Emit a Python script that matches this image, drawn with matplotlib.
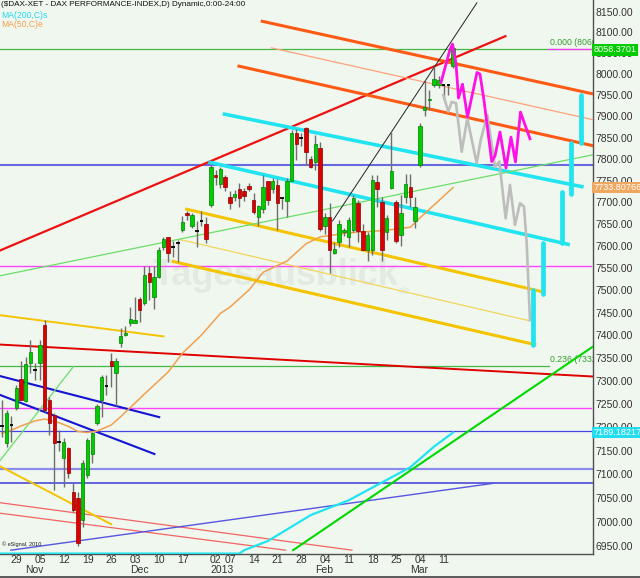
import numpy as np
import pandas as pd
import matplotlib
matplotlib.use("Agg")
import matplotlib.pyplot as plt
from matplotlib.ticker import FixedLocator, NullLocator, FuncFormatter

plt.rcParams['font.family'] = ['Liberation Sans', 'DejaVu Sans']

# trading days (day 0 = 29 Oct 2012)
holidays = ["2012-12-24", "2012-12-25", "2012-12-26", "2012-12-31", "2013-01-01"]
days = pd.bdate_range("2012-10-25", "2013-03-14")
days = days[~days.isin(pd.to_datetime(holidays))]
day_no = np.arange(len(days)) - 2

opens = [7202, 7166, 7205, 7241, 7305, 7257, 7339, 7325, 7339, 7423, 7260, 7227, 7168, 7134, 7155, 7063,
         7050, 7004, 7099, 7144, 7209, 7259, 7290, 7343, 7317, 7383, 7401, 7428, 7427, 7480, 7471, 7539,
         7486, 7531, 7597, 7620, 7599, 7606, 7637, 7676, 7645, 7635, 7656, 7651, 7694, 7763, 7742, 7759,
         7712, 7712, 7730, 7726, 7738, 7705, 7666, 7684, 7748, 7730, 7740, 7709, 7703, 7749, 7860, 7849,
         7872, 7800, 7792, 7825, 7645, 7666, 7584, 7609, 7632, 7620, 7637, 7698, 7635, 7592, 7591, 7746,
         7701, 7632, 7733, 7701, 7626, 7712, 7735, 7656, 7786, 7915, 7938, 7975, 7974, 7974, 7975, 8020]
highs = [7259, 7238, 7225, 7292, 7345, 7353, 7390, 7340, 7390, 7435, 7266, 7230, 7195, 7177, 7157, 7082,
         7062, 7130, 7177, 7191, 7251, 7313, 7313, 7361, 7350, 7417, 7421, 7464, 7486, 7486, 7554, 7556,
         7555, 7599, 7620, 7621, 7612, 7614, 7669, 7680, 7676, 7656, 7679, 7667, 7787, 7775, 7781, 7763,
         7727, 7729, 7745, 7732, 7745, 7722, 7693, 7763, 7750, 7755, 7754, 7711, 7755, 7868, 7870, 7860,
         7875, 7807, 7855, 7840, 7676, 7698, 7609, 7660, 7640, 7667, 7717, 7705, 7651, 7632, 7763, 7763,
         7712, 7671, 7866, 7705, 7717, 7766, 7766, 7712, 7885, 7986, 7962, 8020, 7995, 7977, 7977, 8073]
lows = [7180, 7159, 7169, 7238, 7259, 7255, 7317, 7303, 7303, 7234, 7184, 7067, 7150, 7074, 7092, 7021,
        6950, 6990, 7092, 7124, 7205, 7223, 7270, 7287, 7245, 7375, 7398, 7420, 7427, 7430, 7468, 7479,
        7458, 7528, 7591, 7565, 7576, 7565, 7633, 7660, 7641, 7599, 7645, 7606, 7690, 7740, 7732, 7726,
        7685, 7702, 7688, 7703, 7726, 7673, 7645, 7676, 7693, 7722, 7637, 7685, 7666, 7748, 7797, 7830,
        7785, 7778, 7775, 7635, 7628, 7540, 7581, 7599, 7622, 7597, 7633, 7609, 7591, 7567, 7580, 7690,
        7567, 7614, 7731, 7607, 7600, 7698, 7690, 7641, 7781, 7900, 7915, 7970, 7968, 7940, 7950, 8015]
closes = [7203, 7230, 7204, 7285, 7260, 7337, 7363, 7324, 7379, 7237, 7209, 7166, 7167, 7169, 7102, 7025,
          6955, 7123, 7173, 7187, 7245, 7310, 7289, 7332, 7343, 7399, 7406, 7436, 7435, 7456, 7535, 7520,
          7531, 7591, 7616, 7584, 7598, 7605, 7654, 7671, 7671, 7634, 7655, 7616, 7781, 7758, 7776, 7736,
          7699, 7719, 7709, 7714, 7731, 7678, 7691, 7736, 7705, 7750, 7699, 7708, 7750, 7860, 7836, 7848,
          7817, 7781, 7836, 7638, 7667, 7591, 7593, 7651, 7636, 7660, 7710, 7635, 7592, 7626, 7752, 7731,
          7591, 7663, 7773, 7612, 7676, 7743, 7712, 7690, 7876, 7923, 7942, 7989, 7987, 7974, 7974, 8062]

# moving averages (day, value)
ma50_day = [-2, 0, 2, 5, 7, 8, 10, 12, 14, 16, 18, 21, 23, 28, 33, 36, 40, 44, 46, 50, 53, 58, 62, 65,
            71, 79, 84, 86, 89, 93]
ma50_val = [7187, 7194, 7203, 7214, 7218, 7215, 7210, 7202, 7191, 7189, 7192, 7205, 7223, 7272, 7320,
            7361, 7401, 7449, 7463, 7501, 7541, 7566, 7605, 7621, 7630, 7636, 7643, 7664, 7694, 7734]
ma200_day = [-3, 48, 49, 54, 63, 71, 79, 84, 89, 93]
ma200_val = [6934, 6934, 6941, 6960, 7014, 7045, 7088, 7115, 7159, 7189]

# trend lines: ((day, price), (day, price))
red_up = [(-2.42, 7590), (104.0, 8091)]
red_down = [(-2.42, 7380), (122.5, 7310)]
red_thin = [[(-2.42, 7040), (71.7, 6941)], [(-2.42, 7018), (57.7, 6941)]]
orange_thick = [[(52.8, 8127), (122.4, 7953)], [(47.9, 8019), (122.4, 7831)]]
orange_thin = [(54.7, 8063), (122.4, 7892)]
cyan_channel = [[(44.85, 7905), (120.1, 7736)], [(41.84, 7792), (117.2, 7604)]]
yellow_thick = [[(36.9, 7684), (111.45, 7498)], [(34.1, 7565), (110.2, 7380)],
                [(-2.42, 7445), (32.0, 7398)], [(-2.42, 7117), (21.0, 6995)]]
yellow_thin = [(35.4, 7615), (108.9, 7433)]
blue_thick = [[(-2.42, 7311), (31.1, 7222)], [(-2.42, 7270), (30.1, 7143)]]
blue_diag = [(-0.12, 6941), (101.6, 7081)]
green_thick = [(59.3, 6941), (122.5, 7376)]
green_thin = [[(-2.42, 7533), (122.5, 7810)], [(-2.42, 7129), (13.06, 7332)]]
black_thin = [(67.6, 7657), (98.0, 8172)]

# horizontal levels
fib_levels = [8060, 7333]
fib_labels = ["0.000 (8060", "0.236 (7332"]
blue_levels = [7786.5, 7193, 7080.7]
blue_light_level = 7110.5
magenta_levels = [7555, 7241]

# projections
pink_day = [90.44, 92.34, 92.86, 93.6, 94.13, 94.97, 96.02, 98.02, 98.65, 99.49, 101.12, 101.81,
            102.86, 104.13, 105.18, 106.13, 107.18, 109.18]
pink_val = [7980, 8059, 8072, 8026, 7943, 7976, 7898, 8004, 8000, 7938, 7794, 7807, 7863, 7779,
            7851, 7793, 7910, 7847]
gray_day = [90.93, 91.98, 92.69, 93.6, 94.8, 95.98, 97.96, 98.8, 100.19, 101.81, 102.72, 104.06,
            104.97, 106.02, 107.08, 107.92, 108.49, 109.18]
gray_val = [7950, 7911, 7934, 7931, 7817, 7895, 7790, 7844, 7903, 7782, 7794, 7663, 7740, 7648,
            7698, 7690, 7606, 7434]
bar_day = [109.9, 111.9, 115.9, 117.8, 119.9]
bar_low = [7380, 7493, 7608, 7720, 7837]
bar_high = [7500, 7608, 7723, 7837, 7950]

# last values on the price scale
last_close = 8058.3701
last_ma50 = 7733.80766
last_ma200 = 7189.18217

tick_days = ["2012-10-29", "2012-11-05", "2012-11-12", "2012-11-19", "2012-11-26", "2012-12-03",
             "2012-12-10", "2012-12-17", "2013-01-02", "2013-01-07", "2013-01-14", "2013-01-21",
             "2013-01-28", "2013-02-04", "2013-02-11", "2013-02-18", "2013-02-25", "2013-03-04",
             "2013-03-11"]
month_days = ["2012-11-01", "2012-12-03", "2013-01-02", "2013-02-01", "2013-03-01"]
month_names = ["Nov", "Dec", "2013", "Feb", "Mar"]

bg = "#f0f7ee"
fig = plt.figure(figsize=(6.4, 5.78), dpi=100)
fig.patch.set_facecolor(bg)
ax = fig.add_axes([0, 24 / 578, 593 / 640, 554 / 578])
ax.set_facecolor(bg)
ax.set_yscale("log")
ax.set_xlim(-2.42, 122.45)
ax.set_ylim(6933.1, 8178.8)


def seg(line, **kw):
    (x0, y0), (x1, y1) = line
    ax.plot([x0, x1], [y0, y1], **kw)


# watermark
ax.text(0.4646, 0.502, "Tagesausblick", transform=ax.transAxes, fontsize=26, fontweight="bold",
        color="#e3eae1", ha="center", va="center", zorder=1)
ax.text(0.672, 0.474, "de", transform=ax.transAxes, fontsize=7, fontweight="bold",
        color="#e3eae1", ha="left", va="center", zorder=1)

# horizontal levels
ax.axhline(fib_levels[0], color="#44b844", lw=0.9, zorder=2)
ax.plot([113, 122.45], [fib_levels[0]] * 2, color="#ff30ff", lw=0.9, zorder=2)
ax.plot([-2.42, 113.2], [fib_levels[1]] * 2, color="#44b844", lw=0.9, zorder=2)
for lev, lab in zip(fib_levels, fib_labels):
    ax.text(113.3, lev * 1.0005, lab, color="#30a030", fontsize=6.3, va="bottom", ha="left",
            clip_on=True, zorder=2)
ax.axhline(blue_levels[0], color="#6a6ae0", lw=1.5, zorder=2)
ax.axhline(blue_levels[1], color="#4444e6", lw=0.9, zorder=2)
ax.axhline(blue_levels[2], color="#3c3cd8", lw=1.1, zorder=2)
ax.axhline(blue_light_level, color="#8c8cec", lw=1.6, zorder=2)
for lev in magenta_levels:
    ax.plot([-2.42, 122.1], [lev, lev], color="#ff44ff", lw=1.0, zorder=2)

# trend lines
seg(red_up, color="#ee1111", lw=1.6, zorder=3)
seg(red_down, color="#e00000", lw=1.4, zorder=3)
for ln in red_thin:
    seg(ln, color="#f06464", lw=0.9, zorder=3)
for ln in orange_thick:
    seg(ln, color="#ff5a14", lw=2.2, zorder=3)
seg(orange_thin, color="#ffa27c", lw=0.9, zorder=3)
for ln in cyan_channel:
    seg(ln, color="#20e4f0", lw=2.6, zorder=3)
for ln in yellow_thick:
    seg(ln, color="#f5c400", lw=2.2 if ln[0][0] > 0 else 1.4, zorder=3)
seg(yellow_thin, color="#f3d45c", lw=0.9, zorder=3)
for ln in blue_thick:
    seg(ln, color="#1414d2", lw=1.5, zorder=3)
seg(blue_diag, color="#5656e0", lw=1.0, zorder=3)
seg(green_thick, color="#00d800", lw=1.5, zorder=3)
for ln in green_thin:
    seg(ln, color="#6ade6a", lw=0.9, zorder=3)
seg(black_thin, color="#222222", lw=0.7, zorder=3)

# moving averages
ax.plot(ma200_day, ma200_val, color="#20e4f0", lw=1.6, zorder=4)
ax.plot(ma50_day, ma50_val, color="#f0a050", lw=1.1, zorder=4)

# candles
for d, o, h, l, c in zip(day_no, opens, highs, lows, closes):
    ax.vlines(d, l, h, color="#6e6e6e", lw=1.0, zorder=5)
    if abs(c - o) < 3:
        ax.hlines(o, d - 0.38, d + 0.38, color="black", lw=1.3, zorder=6)
    else:
        up = c > o
        ax.bar(d, abs(c - o), bottom=min(o, c), width=0.72,
               color="#00cc00" if up else "#dd0000",
               edgecolor="#008000" if up else "#8a0000", lw=0.5, zorder=6)

# projections
ax.plot(gray_day, gray_val, color="#bdbdbd", lw=1.9, zorder=7)
ax.plot(pink_day, pink_val, color="#ff10e8", lw=2.0, zorder=8)
ax.vlines(bar_day, bar_low, bar_high, color="#20e4f0", lw=3.4, zorder=8, capstyle="round")

# axes styling
for s in ["left", "top"]:
    ax.spines[s].set_visible(False)
for s in ["right", "bottom"]:
    ax.spines[s].set_color("#505050")
    ax.spines[s].set_linewidth(1.0)
ax.yaxis.tick_right()
ax.yaxis.set_major_locator(FixedLocator(np.arange(6950, 8151, 50)))
ax.yaxis.set_minor_locator(NullLocator())
ax.yaxis.set_major_formatter(FuncFormatter(lambda v, p: f"{v:.2f}"))
ax.tick_params(axis="y", length=0, pad=1.5, labelsize=7.5, labelcolor="#333333")
ax.set_xticks([])

xtr = ax.get_xaxis_transform()
pos = {d: n for d, n in zip(days, day_no)}
for t in tick_days:
    dt = pd.Timestamp(t)
    ax.text(pos[dt] - 0.2, -6 / 554, dt.strftime("%d"), transform=xtr, ha="left", va="center",
            fontsize=7.5, color="#333333", clip_on=False)
for t, name in zip(month_days, month_names):
    ax.text(pos[pd.Timestamp(t)] - 0.1, -16 / 554, name, transform=xtr, ha="left", va="center",
            fontsize=7.5, color="#333333", clip_on=False)

# value boxes on price scale
ytr = ax.get_yaxis_transform()
for val, txt, col in [(last_close, "8058.3701", "#00cc00"), (last_ma50, "7733.80766", "#f0a860"),
                      (last_ma200, "7189.18217", "#22dcef")]:
    ax.text(1.0005, val, txt, transform=ytr, ha="left", va="center", fontsize=6.6, color="white",
            bbox=dict(facecolor=col, edgecolor="none", pad=1.0), clip_on=False, zorder=10)

# header texts
ax.text(0.002, 0.998, "($DAX-XET - DAX PERFORMANCE-INDEX,D) Dynamic,0:00-24:00", transform=ax.transAxes,
        ha="left", va="top", fontsize=5.9, color="#111111")
ax.text(0.002, 0.981, "MA(200,C)s", transform=ax.transAxes, ha="left", va="top", fontsize=6.2,
        color="#20d8ee")
ax.text(0.002, 0.964, "MA(50,C)e", transform=ax.transAxes, ha="left", va="top", fontsize=6.2,
        color="#f0a050")
ax.text(0.003, 0.012, "© eSignal, 2010", transform=ax.transAxes, ha="left", va="bottom", fontsize=4,
        color="#222222")

fig.add_artist(plt.Line2D([0, 1], [0.002, 0.002], transform=fig.transFigure, color="#404040", lw=1.2))

fig.savefig("out.png", dpi=100, facecolor=bg)
